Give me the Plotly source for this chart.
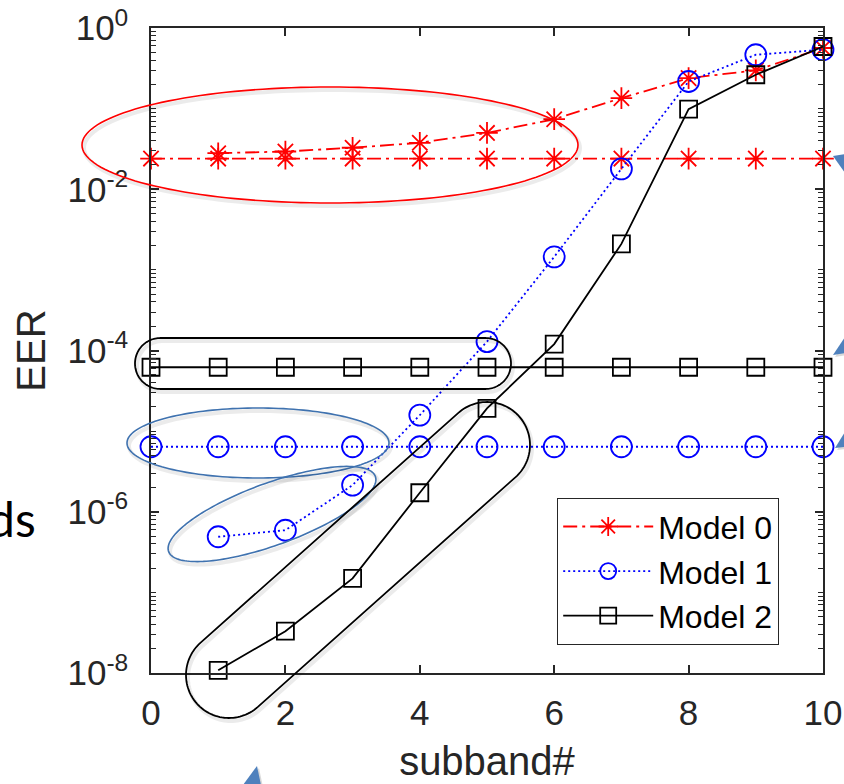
import math
import plotly.graph_objects as go

# ---- data ---------------------------------------------------------------
subband_all = [0, 1, 2, 3, 4, 5, 6, 7, 8, 9, 10]
subband = [1, 2, 3, 4, 5, 6, 7, 8, 9, 10]

# EER when every subband is used (flat reference lines)
eer0_full = 0.024
eer1_full = 6.4e-6
eer2_full = 6.2e-5

# EER per subband
eer0 = [0.028, 0.0294, 0.0327, 0.0377, 0.050, 0.074, 0.135, 0.239, 0.298, 0.565]
eer1 = [4.9e-7, 5.9e-7, 2.14e-6, 1.58e-5, 1.29e-4, 1.45e-3, 0.0179, 0.217, 0.466, 0.538]
eer2 = [1.08e-8, 3.3e-8, 1.49e-7, 1.72e-6, 1.91e-5, 1.2e-4, 2.1e-3, 0.0986, 0.263, 0.59]

model_names = ["Model 0", "Model 1", "Model 2"]
y_tickvals = [1e-8, 1e-6, 1e-4, 1e-2, 1]
y_ticktext = ["10<sup>-8</sup>", "10<sup>-6</sup>", "10<sup>-4</sup>", "10<sup>-2</sup>", "10<sup>0</sup>"]
x_tickvals = [0, 2, 4, 6, 8, 10]

# ---- page geometry --------------------------------------------------------
FIG_W, FIG_H = 844, 784
L, T, R, B = 151, 28, 21, 111
PW, PH = FIG_W - L - R, FIG_H - T - B


def to_paper(xp, yp):
    return (xp - L) / PW, 1 - (yp - T) / PH


def path_from(points, close=True):
    pts = [to_paper(x, y) for x, y in points]
    s = "M %.5f,%.5f " % pts[0] + " ".join("L %.5f,%.5f" % p for p in pts[1:])
    return s + (" Z" if close else "")


def ellipse_pts(cx, cy, a, b, theta_deg=0.0, n=160):
    th = math.radians(theta_deg)
    out = []
    for i in range(n):
        t = 2 * math.pi * i / n
        x = cx + a * math.cos(t) * math.cos(th) - b * math.sin(t) * math.sin(th)
        y = cy - (a * math.cos(t) * math.sin(th) + b * math.sin(t) * math.cos(th))
        out.append((x, y))
    return out


def capsule_pts(p1, p2, r, n=60):
    dx, dy = p2[0] - p1[0], p2[1] - p1[1]
    base = math.atan2(dy, dx)
    out = []
    for i in range(n + 1):
        a = base - math.pi / 2 + math.pi * i / n
        out.append((p2[0] + r * math.cos(a), p2[1] + r * math.sin(a)))
    for i in range(n + 1):
        a = base + math.pi / 2 + math.pi * i / n
        out.append((p1[0] + r * math.cos(a), p1[1] + r * math.sin(a)))
    return out


fig = go.Figure()

red = "#FF0000"
blue = "#0000FF"
black = "#000000"

styles = [
    dict(color=red, dash="14px,5px,3px,5px", width=1.8, symbol="asterisk-open", size=18),
    dict(color=blue, dash="2px,3px", width=1.8, symbol="circle-open", size=21),
    dict(color=black, dash="solid", width=1.8, symbol="square-open", size=17),
]

fulls = [eer0_full, eer1_full, eer2_full]
curves = [eer0, eer1, eer2]

for name, st, full, curve in zip(model_names, styles, fulls, curves):
    marker = dict(symbol=st["symbol"], size=st["size"], color=st["color"],
                  line=dict(color=st["color"], width=1.8))
    line = dict(color=st["color"], dash=st["dash"], width=st["width"])
    fig.add_trace(go.Scatter(x=subband_all, y=[full] * len(subband_all), mode="lines+markers",
                             name=name + " (all subbands)", showlegend=False,
                             line=line, marker=marker, cliponaxis=False))
    fig.add_trace(go.Scatter(x=subband, y=curve, mode="lines+markers", name=name,
                             line=line, marker=marker, cliponaxis=False))

# ---- highlight outlines ---------------------------------------------------
outlines = [
    (ellipse_pts(330, 145, 248, 58), "#FF0000", 1.6),
    (capsule_pts((160.5, 363.5), (485.5, 363.5), 25.5), "#000000", 1.8),
    (ellipse_pts(258, 443, 131, 35), "#3F72AF", 1.6),
    (ellipse_pts(272, 514, 110, 31, 20), "#3F72AF", 1.6),
    (capsule_pts((229, 675), (487, 445), 43), "#000000", 1.8),
]
shapes = []
for pts, col, w in outlines:
    shadow = [(x + 2, y + 3) for x, y in pts]
    shapes.append(dict(type="path", xref="paper", yref="paper", path=path_from(shadow),
                       line=dict(color="rgba(0,0,0,0.08)", width=4), layer="above"))
    shapes.append(dict(type="path", xref="paper", yref="paper", path=path_from(pts),
                       line=dict(color=col, width=w), layer="above"))

# arrow heads reaching in from the edges
arrow_heads = [
    [(833, 156), (845, 154), (845, 173)],
    [(833, 355), (845, 337), (845, 353)],
    [(835, 448), (845, 432), (845, 447)],
    [(257, 766), (243, 785), (261, 785)],
]
for tri in arrow_heads:
    sh = [(x + 2, y + 2) for x, y in tri]
    shapes.append(dict(type="path", xref="paper", yref="paper", path=path_from(sh),
                       fillcolor="rgba(0,0,0,0.15)", line=dict(width=0), layer="above"))
    shapes.append(dict(type="path", xref="paper", yref="paper", path=path_from(tri),
                       fillcolor="#4F81BD", line=dict(width=0), layer="above"))

# minor ticks on the log axis
minor_vals = []
for e in range(-8, 1):
    for k in range(1, 10):
        v = k * 10.0 ** e
        if v <= 1.0 and v not in y_tickvals:
            minor_vals.append(v)

axis_col = "#262626"
FAMILY = "Liberation Sans, Arial, Helvetica, sans-serif"
tick_font = dict(family=FAMILY, size=35, color=axis_col)

fig.update_layout(
    width=FIG_W, height=FIG_H,
    margin=dict(l=L, r=R, t=T, b=B, autoexpand=False),
    paper_bgcolor="white", plot_bgcolor="white",
    font=dict(family=FAMILY, color=axis_col),
    shapes=shapes,
    legend=dict(x=to_paper(557, 498)[0], y=to_paper(557, 498)[1], xanchor="left", yanchor="top",
                bgcolor="white", bordercolor=axis_col, borderwidth=1.2,
                font=dict(size=32, color="#000000"), itemwidth=90,
                tracegroupgap=0),
    annotations=[dict(text="ds", x=to_paper(38, 518)[0], y=to_paper(38, 518)[1],
                      xref="paper", yref="paper", xanchor="right", yanchor="middle",
                      showarrow=False, font=dict(family="Lato, sans-serif", size=48, color="#000000"))],
)

fig.update_xaxes(
    range=[0, 10], tickvals=x_tickvals, ticktext=[str(v) for v in x_tickvals],
    showgrid=False, zeroline=False, showline=True, linecolor=axis_col, linewidth=1.5,
    mirror="ticks", ticks="inside", ticklen=8, tickwidth=1.5, tickcolor=axis_col,
    tickfont=tick_font, ticklabelstandoff=8,
    title=dict(text="subband#", font=dict(size=40, color=axis_col), standoff=16),
)
fig.update_yaxes(
    type="log", range=[-8, 0], tickvals=y_tickvals, ticktext=y_ticktext,
    showgrid=False, zeroline=False, showline=True, linecolor=axis_col, linewidth=1.5,
    mirror="ticks", ticks="inside", ticklen=8, tickwidth=1.5, tickcolor=axis_col,
    tickfont=tick_font, ticklabelstandoff=14,
    minor=dict(tickvals=minor_vals, ticks="inside", ticklen=5, tickwidth=1.2, tickcolor=axis_col,
               showgrid=False),
    title=dict(text="EER", font=dict(size=40, color=axis_col), standoff=10),
)

fig.write_html("out.html")
